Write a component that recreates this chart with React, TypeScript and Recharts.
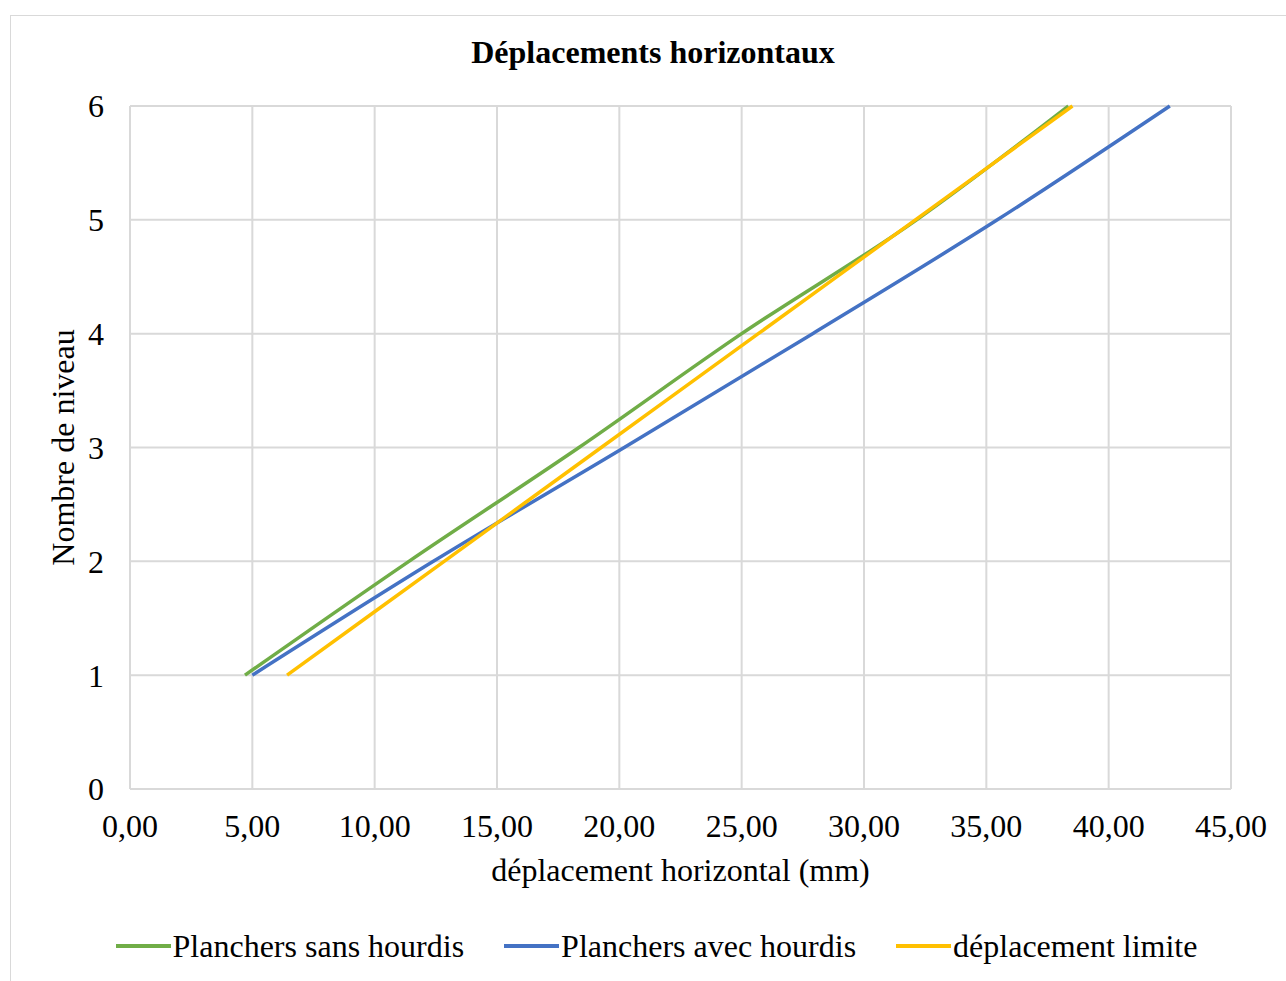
import { CartesianGrid, Label, Legend, Line, LineChart, XAxis, YAxis } from "recharts";

const niveaux = [1, 2, 3, 4, 5, 6];
const sansHourdis = [4.7, 11.4, 18.35, 25.0, 32.15, 38.35];
const avecHourdis = [5.0, 12.4, 20.2, 27.9, 35.45, 42.5];
const deplacementLimite = [6.42, 12.84, 19.26, 25.68, 32.1, 38.52];

const xTicks = [0, 5, 10, 15, 20, 25, 30, 35, 40, 45];
const yTicks = [0, 1, 2, 3, 4, 5, 6];

const series = [
  { name: "Planchers sans hourdis", color: "#70AD47", values: sansHourdis },
  { name: "Planchers avec hourdis", color: "#4472C4", values: avecHourdis },
  { name: "déplacement limite", color: "#FFC000", values: deplacementLimite },
];

const FONT = '"Liberation Serif", "Times New Roman", serif';

const fmt = (v: number) => v.toFixed(2).replace(".", ",");

// legend keeps the series order (recharts sorts the payload by name otherwise)
function LegendRow() {
  return (
    <div
      style={{
        display: "flex",
        justifyContent: "center",
        alignItems: "center",
        gap: 40,
        paddingLeft: 17,
        fontFamily: FONT,
        fontSize: 32,
        lineHeight: "36px",
        color: "#000",
      }}
    >
      {series.map((s) => (
        <div key={s.name} style={{ display: "flex", alignItems: "center" }}>
          <span
            style={{
              display: "inline-block",
              width: 55,
              height: 4,
              background: s.color,
              marginRight: 2,
            }}
          />
          <span>{s.name}</span>
        </div>
      ))}
    </div>
  );
}

export default function App() {
  return (
    <div
      style={{
        position: "fixed",
        left: 0,
        top: 0,
        width: 1286,
        height: 981,
        overflow: "hidden",
        background: "#fff",
      }}
    >
      <div
        style={{
          position: "absolute",
          left: 10,
          top: 15,
          width: 1300,
          height: 1000,
          border: "1px solid #d9d9d9",
        }}
      />
      <div
        style={{
          position: "absolute",
          left: 10,
          top: 36,
          width: 1286,
          textAlign: "center",
          fontFamily: FONT,
          fontWeight: "bold",
          fontSize: 32,
          lineHeight: "32px",
          color: "#000",
        }}
      >
        Déplacements horizontaux
      </div>
      <div style={{ position: "absolute", left: 10, top: 15 }}>
        <LineChart
          width={1276}
          height={966}
          margin={{ top: 91, right: 55, left: 0, bottom: 92 }}
          style={{ fontFamily: FONT }}
        >
          <CartesianGrid stroke="#d9d9d9" strokeWidth={2} />
          <XAxis
            type="number"
            dataKey="x"
            domain={[0, 45]}
            ticks={xTicks}
            tickFormatter={fmt}
            height={100}
            tickLine={false}
            axisLine={false}
            tickSize={0}
            tickMargin={25}
            tick={{ fill: "#000", fontSize: 32, fontFamily: FONT }}
            allowDataOverflow
          >
            <Label
              content={({ viewBox }: any) => {
                const vb = viewBox || { x: 120, y: 774, width: 1101 };
                return (
                  <text
                    x={vb.x + vb.width / 2}
                    y={vb.y + 92}
                    textAnchor="middle"
                    fontSize={32}
                    fontFamily={FONT}
                    fill="#000"
                  >
                    déplacement horizontal (mm)
                  </text>
                );
              }}
            />
          </XAxis>
          <YAxis
            type="number"
            dataKey="y"
            domain={[0, 6]}
            ticks={yTicks}
            width={120}
            tickLine={false}
            axisLine={false}
            tickSize={0}
            tickMargin={26}
            tick={{ fill: "#000", fontSize: 32, fontFamily: FONT }}
          >
            <Label
              content={({ viewBox }: any) => {
                const vb = viewBox || { x: 0, y: 91, height: 683 };
                const cx = vb.x + 64;
                const cy = vb.y + vb.height / 2;
                return (
                  <text
                    x={cx}
                    y={cy}
                    transform={`rotate(-90 ${cx} ${cy})`}
                    textAnchor="middle"
                    fontSize={32}
                    fontFamily={FONT}
                    fill="#000"
                  >
                    Nombre de niveau
                  </text>
                );
              }}
            />
          </YAxis>
          <Legend
            verticalAlign="middle"
            align="center"
            layout="horizontal"
            content={<LegendRow />}
            wrapperStyle={{ top: 913, left: 0, width: 1276 }}
          />
          {series.map((s) => (
            <Line
              key={s.name}
              name={s.name}
              data={niveaux.map((n, i) => ({ x: s.values[i], y: n }))}
              dataKey="y"
              type="monotone"
              stroke={s.color}
              strokeWidth={3.5}
              dot={false}
              activeDot={false}
              isAnimationActive={false}
            />
          ))}
        </LineChart>
      </div>
    </div>
  );
}
